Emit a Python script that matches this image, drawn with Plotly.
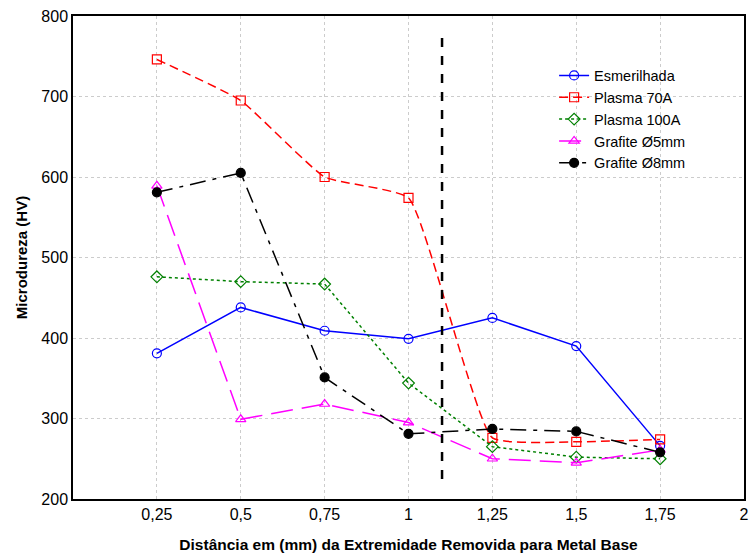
import plotly.graph_objects as go

x = [0.25, 0.5, 0.75, 1.0, 1.25, 1.5, 1.75]
esmerilhada = [381, 438, 409, 399, 425, 390, 266]
plasma70 = [746, 695, 600, 574, 276, 271, 274]
plasma100 = [476, 470, 467, 344, 265, 252, 250]
grafite5 = [589, 299, 318, 295, 250, 245, 261]
grafite8 = [581, 605, 351, 281, 287, 284, 258]

vline_x = [1.1, 1.1]
vline_y = [225, 773]

tickvals = [0.25, 0.5, 0.75, 1, 1.25, 1.5, 1.75, 2]
ticktext = ["0,25", "0,5", "0,75", "1", "1,25", "1,5", "1,75", "2"]

fig = go.Figure()

series = [
    ("Esmerilhada", esmerilhada, "#0000ff", "solid", "circle-open", "linear"),
    ("Plasma 70A", plasma70, "#ff0000", "9px,5px", "square-open", "spline"),
    ("Plasma 100A", plasma100, "#008000", "dot", "diamond-open", "linear"),
    ("Grafite Ø5mm", grafite5, "#ff00ff", "22px,9px", "triangle-up-open", "linear"),
    ("Grafite Ø8mm", grafite8, "#000000", "16px,7px,4px,7px", "circle", "linear"),
]

for name, ys, color, dash, sym, shape in series:
    fig.add_trace(go.Scatter(
        x=x, y=ys, name=name, mode="lines+markers",
        line=dict(color=color, width=1.5, dash=dash, shape=shape, smoothing=0.4),
        marker=dict(symbol=sym, size=9, color=color, line=dict(color=color, width=1.2)),
    ))

fig.add_trace(go.Scatter(
    x=vline_x, y=vline_y, mode="lines", showlegend=False,
    line=dict(color="black", width=2.5, dash="dash"),
))

fig.update_layout(
    width=751, height=556,
    margin=dict(l=73, r=2, t=16, b=57),
    paper_bgcolor="white", plot_bgcolor="white",
    font=dict(family="Liberation Sans, Arial, sans-serif", size=16, color="black"),
    legend=dict(x=0.717, y=0.91, xanchor="left", yanchor="top",
                bgcolor="rgba(0,0,0,0)", font=dict(size=14.5),
                tracegroupgap=0, itemwidth=30),
    xaxis=dict(
        range=[0, 2], tickvals=tickvals, ticktext=ticktext,
        showgrid=True, gridcolor="#cccccc", griddash="dot", gridwidth=1,
        showline=True, linecolor="black", linewidth=1.5, mirror=True,
        ticks="", zeroline=False, tickfont=dict(size=16),
        ticklabeloverflow="allow",
        title=dict(text="<b>Distância em (mm) da Extremidade Removida para Metal Base</b>",
                   font=dict(size=15.5),
                   standoff=17),
    ),
    yaxis=dict(
        range=[200, 800], dtick=100,
        showgrid=True, gridcolor="#cccccc", griddash="dot", gridwidth=1,
        showline=True, linecolor="black", linewidth=1.5, mirror=True,
        ticks="", zeroline=False, tickfont=dict(size=16),
        title=dict(text="<b>Microdureza (HV)</b>", font=dict(size=15), standoff=10),
    ),
)

fig.write_html("out.html", config={"displayModeBar": False},
               post_script="document.body.style.margin='0';")
